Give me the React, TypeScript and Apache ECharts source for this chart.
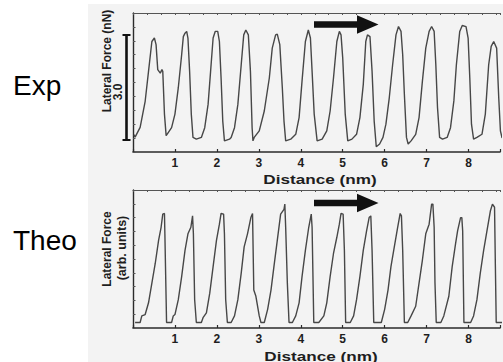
import React, { useEffect, useRef } from "react";
import * as echarts from "echarts";

// Experimental lateral force trace (distance in nm, force in nN)
const expDist = [0.02, 0.05, 0.17, 0.29, 0.37, 0.45, 0.51, 0.55, 0.59, 0.65, 0.69, 0.71, 0.75, 0.79, 0.84, 0.92, 1.0, 1.08, 1.16, 1.2, 1.24, 1.28, 1.31, 1.35, 1.39, 1.43, 1.51, 1.63, 1.71, 1.79, 1.85, 1.91, 1.96, 2.02, 2.06, 2.1, 2.14, 2.18, 2.3, 2.34, 2.42, 2.5, 2.58, 2.64, 2.69, 2.75, 2.8, 2.84, 2.86, 2.89, 3.01, 3.13, 3.25, 3.32, 3.4, 3.44, 3.5, 3.56, 3.6, 3.64, 3.76, 3.88, 3.96, 4.03, 4.11, 4.18, 4.23, 4.27, 4.32, 4.39, 4.51, 4.62, 4.7, 4.78, 4.86, 4.92, 4.96, 5.0, 5.06, 5.12, 5.22, 5.33, 5.41, 5.49, 5.55, 5.59, 5.65, 5.7, 5.75, 5.8, 5.88, 5.96, 6.03, 6.11, 6.19, 6.27, 6.33, 6.39, 6.43, 6.47, 6.52, 6.56, 6.63, 6.74, 6.82, 6.9, 6.98, 7.06, 7.12, 7.18, 7.22, 7.26, 7.31, 7.38, 7.49, 7.57, 7.65, 7.71, 7.79, 7.85, 7.94, 7.99, 8.03, 8.07, 8.12, 8.2, 8.32, 8.4, 8.48, 8.54, 8.6, 8.67, 8.72, 8.76, 8.8];
const expForce = [0.1, 0.03, 0.31, 1.06, 1.92, 2.78, 2.88, 2.69, 1.97, 1.87, 1.97, 1.92, 0.69, 0.07, 0.16, 0.3, 0.69, 1.45, 2.4, 2.92, 3.02, 3.07, 2.88, 1.92, 0.69, 0.02, -0.03, 0.02, 0.3, 0.97, 1.92, 2.88, 3.07, 3.07, 2.78, 1.73, 0.49, -0.08, -0.03, 0.02, 0.3, 0.97, 2.11, 2.97, 3.11, 2.97, 1.92, 0.3, -0.08, 0.02, 0.21, 0.78, 1.73, 2.59, 2.97, 2.99, 2.69, 1.45, 0.49, -0.08, -0.03, 0.11, 0.59, 1.64, 2.78, 3.11, 2.88, 1.92, 0.69, -0.08, -0.03, 0.21, 0.78, 1.73, 2.78, 3.07, 2.97, 2.31, 0.69, -0.08, -0.03, 0.11, 0.59, 1.54, 2.78, 2.97, 2.92, 1.92, 0.49, -0.25, -0.17, 0.02, 0.4, 1.16, 2.11, 2.97, 3.21, 3.07, 2.4, 1.26, 0.02, -0.17, -0.08, 0.11, 0.59, 1.64, 2.59, 3.07, 3.21, 3.07, 2.11, 0.88, 0.02, -0.03, 0.02, 0.3, 1.07, 2.11, 3.07, 3.24, 3.21, 2.88, 1.73, 0.4, -0.03, 0.02, 0.11, 0.69, 2.11, 2.64, 2.78, 2.59, 1.16, 0.21, 0.0];

// Theoretical lateral force trace (distance in nm, force in arb. units)
const theoDist = [0.05, 0.09, 0.17, 0.21, 0.29, 0.37, 0.45, 0.53, 0.61, 0.67, 0.71, 0.75, 0.76, 0.79, 0.8, 0.92, 0.96, 1.0, 1.08, 1.16, 1.24, 1.31, 1.38, 1.42, 1.44, 1.47, 1.51, 1.63, 1.67, 1.75, 1.83, 1.91, 1.99, 2.06, 2.1, 2.16, 2.18, 2.21, 2.25, 2.34, 2.42, 2.5, 2.58, 2.65, 2.73, 2.81, 2.85, 2.88, 2.93, 3.01, 3.05, 3.13, 3.21, 3.29, 3.36, 3.44, 3.52, 3.6, 3.62, 3.64, 3.68, 3.72, 3.8, 3.88, 3.96, 4.03, 4.11, 4.19, 4.25, 4.27, 4.31, 4.43, 4.55, 4.62, 4.7, 4.78, 4.86, 4.92, 4.96, 5.01, 5.04, 5.07, 5.18, 5.26, 5.33, 5.41, 5.49, 5.57, 5.63, 5.67, 5.7, 5.74, 5.92, 6.0, 6.08, 6.15, 6.23, 6.31, 6.37, 6.4, 6.43, 6.47, 6.55, 6.63, 6.74, 6.82, 6.9, 6.98, 7.06, 7.12, 7.15, 7.18, 7.2, 7.23, 7.34, 7.41, 7.53, 7.61, 7.69, 7.74, 7.81, 7.84, 7.86, 7.89, 8.05, 8.12, 8.2, 8.28, 8.36, 8.44, 8.52, 8.57, 8.62, 8.64, 8.66, 8.8];
const theoForce = [0.16, 0.16, 0.16, 0.35, 0.39, 0.73, 1.3, 1.87, 2.54, 2.92, 3.3, 3.32, 2.73, 0.82, 0.16, 0.16, 0.35, 0.39, 0.82, 1.49, 2.25, 2.73, 2.92, 3.25, 2.73, 0.82, 0.16, 0.16, 0.3, 0.44, 1.01, 1.78, 2.54, 3.01, 3.32, 3.3, 2.73, 0.82, 0.16, 0.16, 0.35, 0.82, 1.59, 2.35, 2.73, 3.2, 3.32, 1.1, 0.92, 0.35, 0.16, 0.16, 0.54, 1.1, 1.78, 2.54, 3.3, 3.44, 3.59, 2.92, 1.3, 0.16, 0.16, 0.35, 0.73, 1.49, 2.25, 2.92, 3.3, 2.92, 0.16, 0.16, 0.35, 0.73, 1.49, 2.16, 2.63, 3.01, 3.32, 3.3, 2.25, 0.16, 0.16, 0.35, 0.82, 1.49, 2.25, 2.82, 3.2, 3.25, 2.25, 0.16, 0.16, 0.54, 1.1, 1.78, 2.35, 2.92, 3.32, 3.25, 2.25, 0.16, 0.16, 0.35, 0.63, 1.3, 1.97, 2.73, 3.01, 3.59, 3.59, 2.92, 1.3, 0.16, 0.16, 0.35, 0.92, 1.78, 2.44, 2.82, 3.2, 3.2, 2.82, 0.16, 0.16, 0.35, 0.82, 1.59, 2.25, 2.82, 3.39, 3.59, 3.5, 1.78, 0.16, 0.16];

const panelNames = ["Exp", "Theo"];
const xTitle = "Distance (nm)";
const expYTitle = "Lateral Force (nN)";
const theoYTitle = ["Lateral Force", "(arb. units)"];
const scaleBarLabel = "3.0";

const FONT = '"Liberation Sans", Arial, Helvetica, sans-serif';
const AXIS_COLOR = "#2b2b2b";
const LINE_COLOR = "#474747";

function bottomAxis(gridIndex: number) {
  return {
    type: "value",
    gridIndex,
    position: "bottom",
    min: 0,
    max: 8.75,
    interval: 1,
    axisLine: { show: true, onZero: false, lineStyle: { color: AXIS_COLOR, width: 1.6 } },
    axisTick: { show: true, inside: true, length: 3, lineStyle: { color: AXIS_COLOR, width: 1.2 } },
    axisLabel: {
      show: true,
      margin: 5,
      color: "#1e1e1e",
      fontFamily: FONT,
      fontWeight: "bold",
      fontSize: 12,
      formatter: (v: number) => (Number.isInteger(v) && v > 0 ? String(v) : ""),
    },
    splitLine: { show: false },
  };
}

function topAxis(gridIndex: number) {
  return {
    type: "value",
    gridIndex,
    position: "top",
    min: 0,
    max: 8.75,
    interval: 1 / 3,
    axisLine: { show: true, onZero: false, lineStyle: { color: "#555", width: 1.1 } },
    axisTick: { show: true, inside: true, length: 2, lineStyle: { color: "#555", width: 1 } },
    axisLabel: { show: false },
    splitLine: { show: false },
  };
}

function leftAxis(gridIndex: number, min: number, max: number) {
  return {
    type: "value",
    gridIndex,
    min,
    max,
    interval: 0.4,
    axisLine: { show: true, onZero: false, lineStyle: { color: AXIS_COLOR, width: 1.4 } },
    axisTick: { show: true, inside: true, length: 2.5, lineStyle: { color: "#555", width: 1 } },
    axisLabel: { show: false },
    splitLine: { show: false },
  };
}

function arrow(cy: number) {
  return {
    type: "polygon",
    z: 10,
    shape: {
      points: [
        [314, cy - 3.3],
        [357, cy - 3.3],
        [357, cy - 9.2],
        [378.5, cy],
        [357, cy + 9.2],
        [357, cy + 3.3],
        [314, cy + 3.3],
      ],
    },
    style: { fill: "#111" },
  };
}

export default function App() {
  const ref = useRef<HTMLDivElement>(null);

  useEffect(() => {
    if (!ref.current) return;
    const chart = echarts.init(ref.current, null, { renderer: "svg" });
    const boldText = { fontFamily: FONT, fontWeight: "bold", fill: "#1e1e1e", align: "center", verticalAlign: "middle" };
    chart.setOption({
      animation: false,
      backgroundColor: "#ffffff",
      grid: [
        { left: 133, top: 13, right: 0, height: 139 },
        { left: 133, top: 190, right: 0, height: 138 },
      ],
      xAxis: [bottomAxis(0), topAxis(0), bottomAxis(1), topAxis(1)],
      yAxis: [leftAxis(0, -0.4, 3.6), leftAxis(1, 0, 4)],
      series: [
        {
          type: "line",
          xAxisIndex: 0,
          yAxisIndex: 0,
          symbol: "none",
          clip: true,
          lineStyle: { color: LINE_COLOR, width: 1.4 },
          data: expDist.map((x, i) => [x, expForce[i]]),
        },
        {
          type: "line",
          xAxisIndex: 2,
          yAxisIndex: 1,
          symbol: "none",
          clip: true,
          lineStyle: { color: LINE_COLOR, width: 1.4 },
          data: theoDist.map((x, i) => [x, theoForce[i]]),
        },
      ],
      graphic: [
        { type: "rect", z: -10, shape: { x: 88, y: 4, width: 415, height: 358 }, style: { fill: "#f3f3f3" } },
        { type: "text", x: 13, y: 85, style: { text: panelNames[0], fontFamily: FONT, fontSize: 28, fill: "#000", verticalAlign: "middle" } },
        { type: "text", x: 13, y: 240, style: { text: panelNames[1], fontFamily: FONT, fontSize: 28, fill: "#000", verticalAlign: "middle" } },
        { type: "text", x: 107, y: 61, rotation: Math.PI / 2, style: { ...boldText, text: expYTitle, fontSize: 12 } },
        { type: "text", x: 118, y: 92, rotation: Math.PI / 2, style: { ...boldText, text: scaleBarLabel, fontSize: 12 } },
        { type: "text", x: 107, y: 249, rotation: Math.PI / 2, style: { ...boldText, text: theoYTitle[0], fontSize: 12 } },
        { type: "text", x: 122, y: 248, rotation: Math.PI / 2, style: { ...boldText, text: theoYTitle[1], fontSize: 12.5 } },
        { type: "text", x: 320, y: 179, scaleX: 1.32, style: { ...boldText, text: xTitle, fontSize: 13 } },
        { type: "text", x: 321, y: 356, scaleX: 1.32, style: { ...boldText, text: xTitle, fontSize: 13 } },
        { type: "line", shape: { x1: 126.5, y1: 35, x2: 126.5, y2: 140 }, style: { stroke: "#111", lineWidth: 2.6 } },
        { type: "line", shape: { x1: 122.5, y1: 35, x2: 130.5, y2: 35 }, style: { stroke: "#111", lineWidth: 2 } },
        { type: "line", shape: { x1: 122.5, y1: 140, x2: 130.5, y2: 140 }, style: { stroke: "#111", lineWidth: 2 } },
        arrow(24.5),
        arrow(203),
      ],
    });
    return () => chart.dispose();
  }, []);

  return (
    <div
      ref={ref}
      style={{ position: "fixed", left: 0, top: 0, width: 503, height: 362 }}
    />
  );
}
